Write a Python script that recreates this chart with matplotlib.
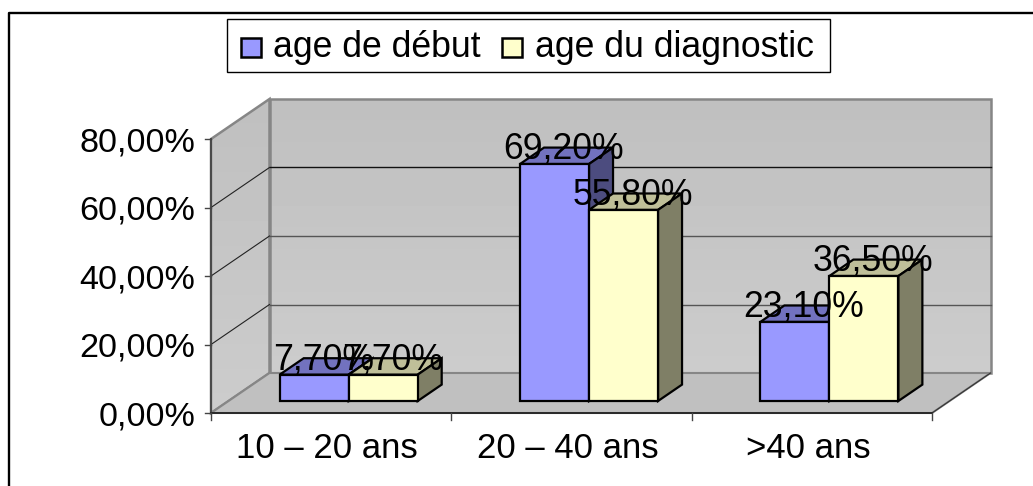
#!/usr/bin/env python3
import numpy as np
import matplotlib
matplotlib.use('Agg')
import matplotlib.pyplot as plt
from matplotlib.patches import Polygon, Rectangle

categories = ['10 – 20 ans', '20 – 40 ans', '>40 ans']
series_names = ['age de début', 'age du diagnostic']
debut = [7.7, 69.2, 23.1]
diagnostic = [7.7, 55.8, 36.5]
y_ticks = [0, 20, 40, 60, 80]

W, H = 1033, 486
# box in pixels
X0, X1 = 211, 932
Y0, Y80 = 413, 139
DX, DY = 58.5, -40
BAR_W = 69
FONT = 25.7
TICK_FONT = 24.6
CAT_FONT = 25

BLUE, BLUE_TOP, BLUE_SIDE = '#9999ff', '#7272bf', '#4c4c7f'
YEL, YEL_TOP, YEL_SIDE = '#ffffcc', '#bfbf99', '#7f7f66'


def ypx(v):
    return Y0 - v / y_ticks[-1] * (Y0 - Y80)


def poly(ax, pts, fc, ec, lw=1.0, z=1):
    ax.add_patch(Polygon(pts, closed=True, fc=fc, ec=ec, lw=lw, zorder=z))


def gradient(ax, pts, z):
    # vertical grey gradient clipped to the wall shape
    img = ax.imshow(np.linspace(0.75, 0.80, 64).reshape(-1, 1), cmap='gray', vmin=0, vmax=1,
                    extent=(min(p[0] for p in pts), max(p[0] for p in pts),
                            max(p[1] for p in pts), min(p[1] for p in pts)),
                    aspect='auto', zorder=z)
    img.set_clip_path(Polygon(pts, closed=True, transform=ax.transData))


def bar3d(ax, x, v, front, top, side):
    base = ypx(0) + DY * 0.3
    x = x + DX * 0.3
    h = ypx(v) + DY * 0.3
    d = DX * 0.41
    e = DY * 0.41
    poly(ax, [(x, h), (x + BAR_W, h), (x + BAR_W + d, h + e), (x + d, h + e)], top, 'black', 1.6, 3)
    poly(ax, [(x + BAR_W, base), (x + BAR_W + d, base + e), (x + BAR_W + d, h + e), (x + BAR_W, h)], side, 'black', 1.6, 3)
    poly(ax, [(x, base), (x + BAR_W, base), (x + BAR_W, h), (x, h)], front, 'black', 1.6, 3)


fig = plt.figure(figsize=(W / 100, H / 100), dpi=100)
plt.rcParams['font.family'] = ['Liberation Sans', 'DejaVu Sans']
ax = fig.add_axes([0, 0, 1, 1])
ax.set_xlim(0, W)
ax.set_ylim(H, 0)
ax.axis('off')

# chart frame, only left and top are visible
ax.plot([8.5, 8.5, W + 5], [H + 5, 13, 13], color='black', lw=1.7, zorder=1)

# walls and floor
back = [(X0 + DX, Y0 + DY), (X1 + DX, Y0 + DY), (X1 + DX, Y80 + DY), (X0 + DX, Y80 + DY)]
side = [(X0, Y0), (X0 + DX, Y0 + DY), (X0 + DX, Y80 + DY), (X0, Y80)]
floor = [(X0, Y0), (X1, Y0), (X1 + DX, Y0 + DY), (X0 + DX, Y0 + DY)]
gradient(ax, back, 1)
gradient(ax, side, 1)
poly(ax, back, 'none', '#868686', 1.8, 2)
poly(ax, side, 'none', '#868686', 1.8, 2)
poly(ax, floor, '#c0c0c0', '#868686', 1.5, 2)
ax.plot([X1, X1 + DX], [Y0, Y0 + DY], color='#333333', lw=0.8, zorder=2)

grid_colors = {20: '#555555', 40: '#555555', 60: '#111111'}
for t in y_ticks[1:-1]:
    y = ypx(t)
    ax.plot([X0, X0 + DX], [y, y + DY], color='#222222', lw=0.8, zorder=2)
    ax.plot([X0 + DX, X1 + DX], [y + DY, y + DY], color=grid_colors[t], lw=1.0, zorder=2)

# axes and ticks
ax.plot([X0, X0], [Y80, Y0], color='#444444', lw=1.3, zorder=2)
ax.plot([X0, X1], [Y0, Y0], color='#222222', lw=1.3, zorder=2)
for t in y_ticks:
    ax.plot([X0 - 6, X0], [ypx(t), ypx(t)], color='#444444', lw=1.0, zorder=2)
    ax.text(195, ypx(t) + 12, f'{t:.2f}'.replace('.', ',') + '%', ha='right', va='baseline',
            fontsize=TICK_FONT, color='black', zorder=5)

cat_w = (X1 - X0) / len(categories)
for i in range(len(categories) + 1):
    ax.plot([X0 + i * cat_w] * 2, [Y0, Y0 + 7], color='#444444', lw=1.0, zorder=2)

# bars and labels
for i, name in enumerate(categories):
    cx = X0 + (i + 0.5) * cat_w
    bar3d(ax, cx - BAR_W, debut[i], BLUE, BLUE_TOP, BLUE_SIDE)
    bar3d(ax, cx, diagnostic[i], YEL, YEL_TOP, YEL_SIDE)
    ax.text(cx - 4, 458, name, ha='center', va='baseline', fontsize=CAT_FONT, color='black', zorder=5)
    for x, v in ((cx - BAR_W, debut[i]), (cx, diagnostic[i])):
        label = f'{v:.2f}'.replace('.', ',') + '%'
        ax.text(x + DX * 0.3 + BAR_W / 2 + 9, ypx(v) + DY * 0.3 - 5, label, ha='center', va='baseline',
                fontsize=FONT, color='black', zorder=6)

# legend
ax.add_patch(Rectangle((227, 19), 603, 53, fc='white', ec='black', lw=1.0, zorder=4))
ax.add_patch(Rectangle((240.5, 38), 20, 19, fc=BLUE, ec='black', lw=1.8, zorder=5))
ax.add_patch(Rectangle((501.5, 38), 20, 19, fc=YEL, ec='black', lw=1.8, zorder=5))
ax.text(273, 57, series_names[0], ha='left', va='baseline', fontsize=FONT, color='black', zorder=5)
ax.text(535, 57, series_names[1], ha='left', va='baseline', fontsize=FONT, color='black', zorder=5)

fig.savefig('out.png', dpi=100)
